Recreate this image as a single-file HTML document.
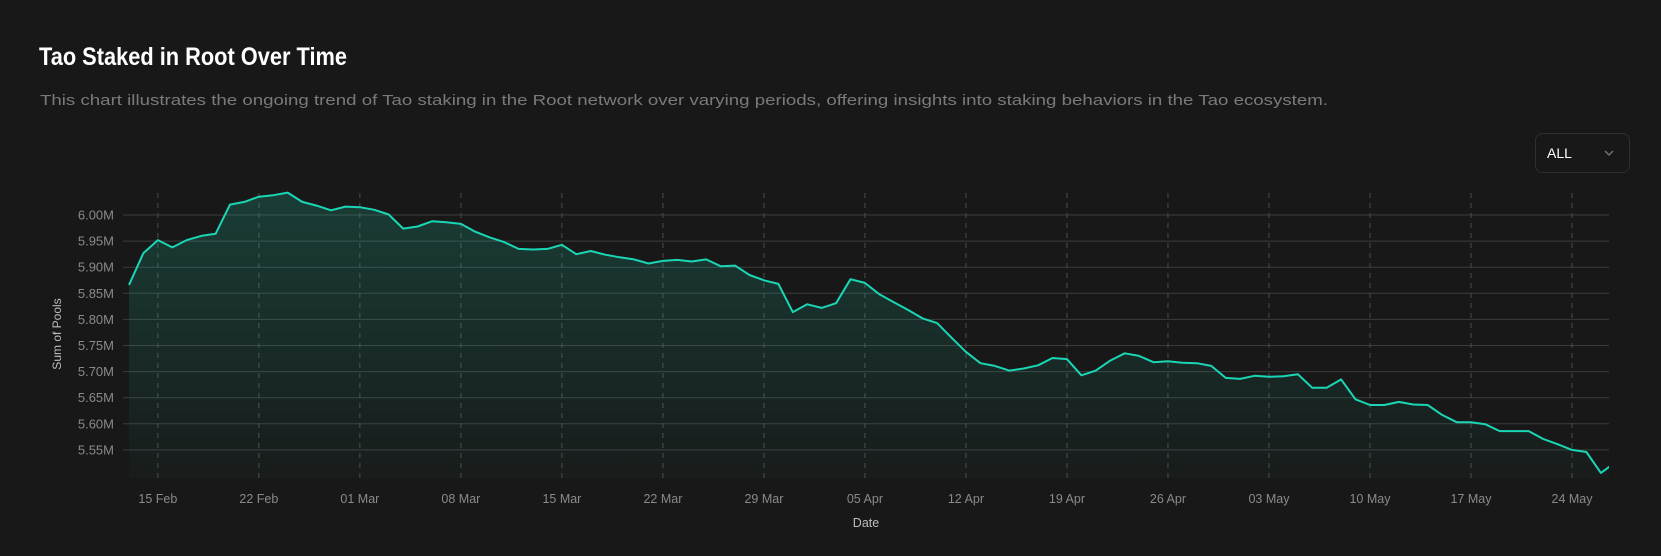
<!DOCTYPE html>
<html><head><meta charset="utf-8"><style>
html,body{margin:0;padding:0;background:#181818;}
svg{display:block;font-family:"Liberation Sans",sans-serif;}
</style></head><body>
<svg id="chart" width="1661" height="556" viewBox="0 0 1661 556" xmlns="http://www.w3.org/2000/svg">
<defs>
<linearGradient id="areaGrad" x1="0" y1="0" x2="0" y2="1">
<stop offset="0" stop-color="#1fd1b0" stop-opacity="0.2"/>
<stop offset="1" stop-color="#1fd1b0" stop-opacity="0.02"/>
</linearGradient>
<clipPath id="plotClip"><rect x="123" y="150" width="1486" height="330"/></clipPath>
</defs>
<rect x="0" y="0" width="1661" height="556" fill="#181818"/>
<text x="39" y="65" font-size="25" font-weight="bold" fill="#ffffff" textLength="308" lengthAdjust="spacingAndGlyphs">Tao Staked in Root Over Time</text>
<text x="40" y="105" font-size="14.5" fill="#7a7a7a" textLength="1288" lengthAdjust="spacingAndGlyphs">This chart illustrates the ongoing trend of Tao staking in the Root network over varying periods, offering insights into staking behaviors in the Tao ecosystem.</text>
<g>
<rect x="1535.5" y="133.5" width="94" height="39" rx="7" fill="#181818" stroke="#2c302e" stroke-width="1"/>
<text x="1547" y="158" font-size="14" fill="#ffffff">ALL</text>
<path d="M1605 151 l4 4 l4 -4" fill="none" stroke="#777" stroke-width="1.3"/>
</g>
<g id="grid"></g>
<g id="series" clip-path="url(#plotClip)"></g>
<g id="axes"></g>
<text transform="translate(61,334) rotate(-90)" text-anchor="middle" font-size="12" fill="#bdbdbd">Sum of Pools</text>
<text x="866" y="527" text-anchor="middle" font-size="12.5" fill="#bdbdbd">Date</text>
</svg>
<script>
const values = [5.866,5.927,5.952,5.938,5.952,5.960,5.964,6.020,6.025,6.035,6.038,6.043,6.025,6.018,6.009,6.016,6.015,6.010,
6.001,5.974,5.978,5.988,5.986,5.983,5.968,5.957,5.948,5.935,5.934,5.935,5.943,5.925,5.931,5.924,5.919,
5.915,5.907,5.912,5.914,5.911,5.915,5.902,5.903,5.885,5.875,5.868,5.814,5.829,5.822,5.831,5.877,5.870,5.848,
5.833,5.818,5.802,5.793,5.765,5.738,5.716,5.711,5.702,5.706,5.712,5.726,5.724,5.693,5.702,5.721,5.735,
5.730,5.718,5.720,5.717,5.716,5.711,5.688,5.686,5.692,5.690,5.691,5.695,5.669,5.669,5.685,5.647,5.636,5.636,
5.642,5.637,5.636,5.617,5.603,5.603,5.599,5.586,5.586,5.586,5.571,5.561,5.550,5.546,5.506,5.526];
const yTicks = [5.55,5.60,5.65,5.70,5.75,5.80,5.85,5.90,5.95,6.00];
const yTickLabels = ["5.55M","5.60M","5.65M","5.70M","5.75M","5.80M","5.85M","5.90M","5.95M","6.00M"];
const xTickDays = [2,9,16,23,30,37,44,51,58,65,72,79,86,93,100];
const xTickLabels = ["15 Feb","22 Feb","01 Mar","08 Mar","15 Mar","22 Mar","29 Mar","05 Apr","12 Apr","19 Apr","26 Apr","03 May","10 May","17 May","24 May"];

const NS = "http://www.w3.org/2000/svg";
const X0 = 129, DAYPX = 14.43, PL = 123, PR = 1609, PB = 478;
function xScale(d){ return X0 + d*DAYPX; }
function yScale(v){ return 215 + (6.00 - v)*522; }
function mk(tag, attrs, parent){ const e=document.createElementNS(NS,tag); for(const k in attrs) e.setAttribute(k,attrs[k]); parent.appendChild(e); return e; }

const grid = document.getElementById('grid');
const axes = document.getElementById('axes');
const series = document.getElementById('series');

yTicks.forEach((t,i)=>{
  const y = yScale(t);
  const l = mk('line',{x1:PL,x2:PR,y1:y,y2:y,stroke:'#3b3d3c','stroke-width':1},grid);
  
  
  const tx = mk('text',{x:114,y:y+4.5,'text-anchor':'end','font-size':13,fill:'#8a8a8a'},axes);
  tx.textContent = yTickLabels[i];
  
  
});
xTickDays.forEach((d,i)=>{
  const x = xScale(d);
  const l = mk('line',{x1:x,x2:x,y1:193,y2:PB,stroke:'#4a4c4b','stroke-width':1,'stroke-dasharray':'5,5'},grid);
  
  
  const tx = mk('text',{x:x,y:503,'text-anchor':'middle','font-size':12.5,fill:'#8a8a8a'},axes);
  tx.textContent = xTickLabels[i];
  
  
});

let line = '';
values.forEach((v,i)=>{ line += (i?'L':'M') + xScale(i).toFixed(1) + ',' + yScale(v).toFixed(1); });
const area = mk('path',{d: line + 'L' + xScale(values.length-1).toFixed(1) + ',' + PB + 'L' + xScale(0) + ',' + PB + 'Z', fill:'url(#areaGrad)'},series);


const lp = mk('path',{d: line, fill:'none', stroke:'#1ad6b4','stroke-width':2,'stroke-linejoin':'round'},series);


</script>
</body></html>
